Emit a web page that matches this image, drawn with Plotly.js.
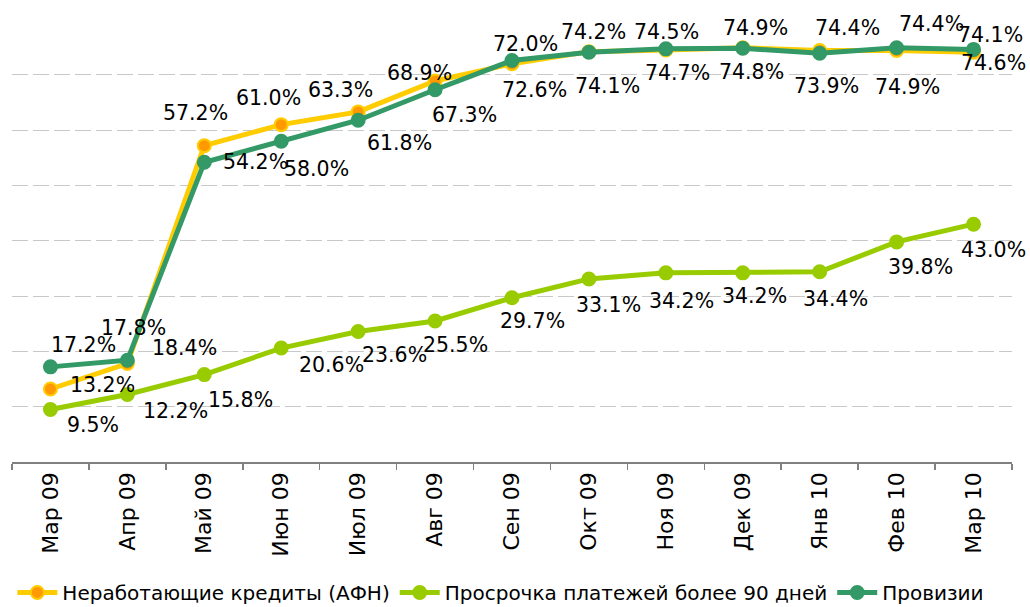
<!DOCTYPE html>
<html>
<head>
<meta charset="utf-8">
<script src="https://cdn.plot.ly/plotly-3.0.1.min.js"></script>
<style>html,body{margin:0;padding:0;background:#fff;}#chart{width:1030px;height:607px;}</style>
</head>
<body>
<div id="chart"></div>
<script>
const categories = ["Мар 09","Апр 09","Май 09","Июн 09","Июл 09","Авг 09","Сен 09","Окт 09","Ноя 09","Дек 09","Янв 10","Фев 10","Мар 10"];
const nonPerforming = [13.2,17.8,57.2,61.0,63.3,68.9,72.0,74.2,74.5,74.9,74.4,74.4,74.1];
const overdue90 = [9.5,12.2,15.8,20.6,23.6,25.5,29.7,33.1,34.2,34.2,34.4,39.8,43.0];
const provisions = [17.2,18.4,54.2,58.0,61.8,67.3,72.6,74.1,74.7,74.8,73.9,74.9,74.6];
const seriesNames = ["Неработающие кредиты (АФН)","Просрочка платежей более 90 дней","Провизии"];

// label offsets in screen pixels (dx right, dy down) — styling only
const offNP = [[52,-4],[6,-36],[-9,-33],[-13,-27],[-18,-22],[-16,-8],[13,-20],[5,-20],[1,-18],[13,-20],[28,-23],[35,-27],[17,-17]];
const offOD = [[43,16],[48,16],[36,25],[50,17],[36,24],[20,24],[20,23],[20,26],[16,28],[12,23],[16,27],[24,25],[20,26]];
const offPR = [[33,-22],[57,-12],[51,0],[35,28],[41,23],[29,25],[22,30],[19,34],[12,24],[9,24],[7,33],[11,39],[20,14]];

const FONT = "DejaVu Sans, Verdana, sans-serif";

function mk(name, y, lineColor, markerColor){
  return {
    type:"scatter", mode:"lines+markers", name:name, x:categories, y:y,
    line:{color:lineColor, width:5},
    marker:{color:markerColor, size:13, line:{color:lineColor, width:2}},
    hoverinfo:"skip"
  };
}
const traces = [
  mk(seriesNames[0], nonPerforming, "#FFCC00", "#FF9900"),
  mk(seriesNames[1], overdue90, "#99CC00", "#99CC00"),
  mk(seriesNames[2], provisions, "#339966", "#339966")
];

const annotations = [];
function addLabels(vals, offs){
  vals.forEach((v,i)=>{
    annotations.push({
      x:categories[i], y:v, xref:"x", yref:"y",
      text:v.toFixed(1)+"%", showarrow:false,
      xshift:offs[i][0], yshift:-offs[i][1],
      xanchor:"center", yanchor:"middle",
      font:{family:FONT, size:20.5, color:"#000"}
    });
  });
}
addLabels(nonPerforming, offNP);
addLabels(overdue90, offOD);
addLabels(provisions, offPR);

const layout = {
  width:1030, height:607,
  margin:{l:12, r:18, t:19, b:145},
  paper_bgcolor:"#fff", plot_bgcolor:"#fff",
  font:{family:FONT, size:20, color:"#000"},
  showlegend:true,
  legend:{orientation:"h", xref:"container", yref:"container", x:0.012, y:0.024, xanchor:"left", yanchor:"middle",
          font:{family:FONT, size:20, color:"#000"}, itemwidth:40, tracegroupgap:0, bgcolor:"rgba(0,0,0,0)"},
  xaxis:{type:"category", range:[-0.5,12.5], showgrid:false, zeroline:false,
         showline:true, linecolor:"#808080", linewidth:1.5,
         ticks:"outside", ticklen:6, tickcolor:"#808080", tickwidth:1.5, tickson:"boundaries",
         tickangle:-90, tickfont:{family:FONT, size:22, color:"#000"}, fixedrange:true},
  yaxis:{range:[0,80.1], dtick:10, tick0:0, showticklabels:false, showline:false, zeroline:false,
         showgrid:true, gridcolor:"#c8c8c8", gridwidth:1, griddash:"16px,5px", ticks:"", fixedrange:true},
  annotations:annotations
};

Plotly.newPlot("chart", traces, layout, {displayModeBar:false, staticPlot:true});
</script>
</body>
</html>
